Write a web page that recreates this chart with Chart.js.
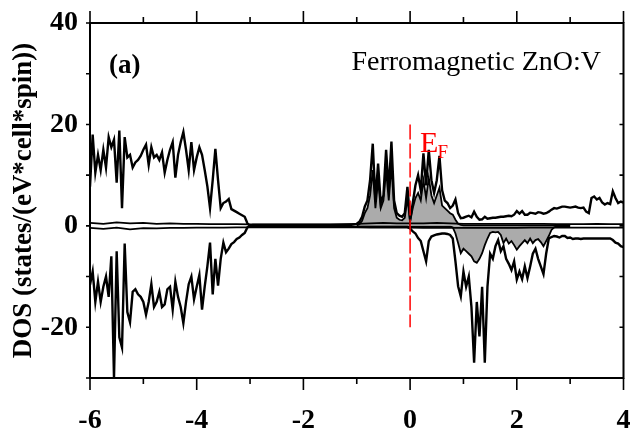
<!DOCTYPE html>
<html>
<head>
<meta charset="utf-8">
<title>DOS - ferromagnetic ZnO:V</title>
<script src="https://cdn.jsdelivr.net/npm/chart.js@4.4.1/dist/chart.umd.min.js"></script>
<style>
  html, body { margin: 0; padding: 0; background: #fff; }
</style>
</head>
<body>
<canvas id="dosChart" width="634" height="430"></canvas>
<script>
const SERIF = "'Liberation Serif', 'Times New Roman', serif";

// Total DOS, sampled every 0.05 eV from -6 to 4 eV
const E_START = -6;
const E_STEP = 0.05;
const totalUp = [
  7.7, 18, 10.5, 14, 11, 15, 11.5, 17.5, 15.5, 17,
  8.5, 18.8, 3.5, 17.5, 13.5, 14, 11.5, 12.5, 13, 13.8,
  15, 16, 12, 15.5, 13.5, 14, 13, 14.5, 10.5, 13,
  15, 16.5, 9.5, 14, 16.5, 18.5, 15, 11, 16.5, 11,
  13.5, 15.5, 14, 11, 7.8, 3.5, 9, 15.2, 9, 3.5,
  4.5, 4.8, 5.3, 3.3, 3.0, 2.7, 2.4, 2.1, 1.8, 0.5,
  0,
  0.2, 0.2, 0.2, 0.2, 0.2, 0.2, 0.2, 0.2, 0.2, 0.2,
  0.2, 0.2, 0.2, 0.2, 0.2, 0.2, 0.2, 0.2, 0.2, 0.2,
  0.2, 0.2, 0.2, 0.2, 0.2, 0.2, 0.2, 0.2, 0.2, 0.2,
  0.2, 0.2, 0.2, 0.2, 0.2, 0.2, 0.2, 0.2,
  0.3, 0.4, 0.8, 1.8, 3.8, 5, 9, 16.2, 5.1, 12.3,
  4.5, 6, 15, 7, 16.6, 5, 2.5, 2, 1.8, 2.5,
  7.7, 1.2, 4.5, 8, 10, 7, 14.3, 8, 15, 9,
  6.5, 9, 13.8, 7, 5, 4.5, 3.5, 4, 5.2, 2.5,
  1.5, 1.6, 1.8, 2.0, 1.7, 2.8, 1.8, 1.2, 1.3, 1.8,
  1.4, 1.5, 1.6, 1.6, 1.7, 1.8, 1.8, 1.9, 2.0, 1.9,
  2.2, 2.9, 2.4, 2.9, 2.2, 2.2, 2.6, 2.5, 2.4, 2.7,
  2.6, 2.4, 2.5, 2.8, 3.2, 3.5, 3.4, 3.6, 3.8, 3.8,
  3.7, 3.6, 3.7, 3.8, 3.6, 3.5, 3.6, 2.8, 2.5, 5.5,
  5.8, 5.2, 5.5, 4.6, 4.2, 4.5, 4.3, 6.8, 5.5, 4.5,
  4.8, 4.6
];
const totalDown = [
  -11.6, -9, -15, -11, -15, -12, -10, -14, -6, -30,
  -5, -22, -24, -3.5, -17, -19, -13, -12.5, -13.5, -14,
  -15, -17.5, -15, -11.5, -16, -15, -13, -16, -15.5, -12.5,
  -12, -16.5, -11, -14, -16, -19.2, -15, -11.5, -10, -14.5,
  -12, -9.7, -16.5, -12, -8, -3.3, -13.5, -6.5, -11.8, -6.5,
  -3.3, -5.2, -4.5, -3.6, -3.2, -2.6, -2.3, -1.8, -1.4, -0.3,
  0,
  -0.2, -0.2, -0.2, -0.2, -0.2, -0.2, -0.2, -0.2, -0.2, -0.2,
  -0.2, -0.2, -0.2, -0.2, -0.2, -0.2, -0.2, -0.2, -0.2, -0.2,
  -0.2, -0.2, -0.2, -0.2, -0.2, -0.2, -0.2, -0.2, -0.2, -0.2,
  -0.2, -0.2, -0.2, -0.2, -0.2, -0.2, -0.2, -0.2, -0.2, -0.2,
  -0.2, -0.2, -0.2, -0.2, -0.2, -0.2, -0.2, -0.2, -0.2, -0.2,
  -0.2, -0.2, -0.2, -0.2, -0.2, -0.2, -0.2, -0.2, -0.2,
  -0.5, -1.1, -1.5, -2.4, -3, -5, -7, -3, -2.1, -1.9,
  -1.7, -1.6, -1.5, -1.5, -1.6, -1.8, -2.5, -7, -11.9, -13.9,
  -9, -12, -10, -16, -27, -15, -21.8, -12, -27, -12,
  -5.5, -6.5, -4, -2.8, -5, -4, -6.5, -7.5, -8.7, -7,
  -10.6, -9, -10.5, -8, -10.3, -8, -5.5, -4.5, -6.5, -8,
  -9.5, -5.5, -2.5, -2.2, -2.0, -2.1, -2.3, -2.0, -2.0, -2.4,
  -2.3, -2.6, -2.5, -2.5, -2.6, -2.5, -2.5, -2.5, -2.5, -2.5,
  -2.5, -2.5, -2.5, -2.5, -2.5, -2.5, -2.8, -3.3, -3.5, -4.0,
  -4.2
];

// V partial DOS (shaded), every 0.05 eV from -1 to 3 eV
const V_START = -1;
const vUp = [
  0.1, 0.3, 1, 2.5, 3.5, 6, 11, 3.5, 9, 3.5,
  5, 11, 5, 12, 3.5, 1.6, 1.2, 1.1, 1.6, 5.5,
  0.8, 3.5, 5.5, 6.5, 5, 9, 5.5, 9.5, 6, 4.5,
  6, 7.5, 4, 3.5, 3, 2.5, 2.2, 1.2, 0.4, 0.2,
  0.1, 0.1, 0.1, 0.1, 0.1, 0.1, 0.1, 0.1, 0.1, 0.1,
  0.1, 0.1, 0.1, 0.1, 0.1, 0.1, 0.1, 0.1, 0.1, 0.1,
  0.1, 0.1, 0.1, 0.1, 0.1, 0.1, 0.1, 0.1, 0.1, 0.1,
  0.1, 0.1, 0.1, 0.1, 0.1, 0.1, 0.1, 0.1, 0.1, 0.1,
  0.1
];
const vDown = [
  -0.1, -0.1, -0.1, -0.1, -0.1, -0.1, -0.1, -0.1, -0.1, -0.1,
  -0.1, -0.1, -0.1, -0.1, -0.1, -0.1, -0.1, -0.1, -0.1, -0.1,
  -0.1, -0.1, -0.1, -0.1, -0.1, -0.1, -0.1, -0.1, -0.1, -0.1,
  -0.1, -0.1, -0.1, -0.1, -0.1, -0.1,
  -0.3, -1.5, -3.4, -5.4, -4.5, -5, -5.5, -6, -7, -7.3,
  -6.5, -5.4, -3.8, -2.5, -1.4, -1.2, -1.3, -1.2, -1.8, -3.4,
  -2.5, -3.5, -3, -3.8, -4.7, -4, -3.4, -2.8, -3.4, -2.5,
  -3.4, -2.8, -2.6, -3.2, -4, -3, -2, -0.8, -0.3,
  -0.1, -0.1, -0.1, -0.1, -0.1, -0.1
];

// small partial DOS hugging zero, every 0.25 eV
const OTHER_STEP = 0.25;
const otherUp = [
  0.6, 0.4, 0.7, 0.5, 0.6, 0.4, 0.5, 0.4, 0.4, 0.35,
  0.35, 0.35, 0.3, 0.3, 0.3, 0.3, 0.3, 0.3, 0.3, 0.35,
  0.4, 0.5, 0.6, 0.5, 0.5, 0.5, 0.6, 0.5, 0.4, 0.4,
  0.4, 0.4, 0.4, 0.4, 0.4, 0.35, 0.35, 0.35, 0.4, 0.35,
  0.35
];
const otherDown = [
  -0.4, -0.6, -0.35, -0.7, -0.45, -0.5, -0.4, -0.4, -0.35, -0.35,
  -0.35, -0.3, -0.3, -0.3, -0.3, -0.3, -0.3, -0.3, -0.3, -0.3,
  -0.3, -0.35, -0.35, -0.35, -0.35, -0.4, -0.4, -0.4, -0.4, -0.4,
  -0.4, -0.4, -0.4, -0.35, -0.35, -0.35, -0.35, -0.35, -0.35, -0.35,
  -0.35
];

const xTickLabels = [-6, -4, -2, 0, 2, 4];
const yTickLabels = [-20, 0, 20, 40];
const fermiSpan = [20, -20];

function toPoints(values, start, step) {
  return values.map((v, i) => ({ x: +(start + i * step).toFixed(3), y: v }));
}

// frame, axis ticks and the in-plot labels
const framePlugin = {
  id: 'frame',
  afterDatasetsDraw(chart) {
    const { ctx, chartArea: a, scales: { x, y } } = chart;
    ctx.save();
    ctx.strokeStyle = '#000';
    ctx.lineWidth = 2;
    ctx.strokeRect(a.left, a.top, a.right - a.left, a.bottom - a.top);

    ctx.lineWidth = 1.6;
    ctx.beginPath();
    for (let v = -6; v <= 4; v++) {
      const px = x.getPixelForValue(v);
      const len = v % 2 === 0 ? 12 : 6;
      ctx.moveTo(px, a.top); ctx.lineTo(px, a.top - len);
      ctx.moveTo(px, a.bottom); ctx.lineTo(px, a.bottom + len);
    }
    for (let v = -30; v <= 40; v += 10) {
      const py = y.getPixelForValue(v);
      ctx.moveTo(a.left, py); ctx.lineTo(a.left - 4, py);
      ctx.moveTo(a.right, py); ctx.lineTo(a.right - 4, py);
    }
    ctx.stroke();

    ctx.fillStyle = '#000';
    ctx.font = 'bold 27px ' + SERIF;
    ctx.textBaseline = 'middle';
    ctx.textAlign = 'left';
    ctx.fillText('(a)', 109, 66);

    ctx.font = '28px ' + SERIF;
    ctx.textAlign = 'right';
    ctx.textBaseline = 'alphabetic';
    ctx.fillText('Ferromagnetic ZnO:V', 601, 70);

    // Fermi level label
    const ex = x.getPixelForValue(0) + 10;
    ctx.fillStyle = '#ff0000';
    ctx.textAlign = 'left';
    ctx.font = '30px ' + SERIF;
    ctx.fillText('E', ex, 152);
    const w = ctx.measureText('E').width;
    ctx.font = '19px ' + SERIF;
    ctx.fillText('F', ex + w - 1, 158);
    ctx.restore();
  }
};

const lineStyle = { borderColor: '#000', pointRadius: 0, tension: 0, fill: false };

new Chart(document.getElementById('dosChart'), {
  type: 'line',
  data: {
    datasets: [
      { ...lineStyle, data: toPoints(totalUp, E_START, E_STEP), borderWidth: 2.4, order: 1 },
      { ...lineStyle, data: toPoints(totalDown, E_START, E_STEP), borderWidth: 2.4, order: 1 },
      { ...lineStyle, data: toPoints(otherUp, E_START, OTHER_STEP), borderWidth: 1.8, order: 2 },
      { ...lineStyle, data: toPoints(otherDown, E_START, OTHER_STEP), borderWidth: 1.8, order: 2 },
      { ...lineStyle, data: toPoints(vUp, V_START, E_STEP), borderWidth: 1.8,
        fill: 'origin', backgroundColor: '#ababab', order: 3 },
      { ...lineStyle, data: toPoints(vDown, V_START, E_STEP), borderWidth: 1.8,
        fill: 'origin', backgroundColor: '#ababab', order: 3 },
      { ...lineStyle, data: fermiSpan.map(v => ({ x: 0, y: v })), borderColor: '#ff0000',
        borderWidth: 1.5, borderDash: [15, 4], order: 0 }
    ]
  },
  options: {
    responsive: false,
    animation: false,
    layout: { padding: { left: 0, top: 23, right: 10.5, bottom: 0 } },
    plugins: { legend: { display: false }, tooltip: { enabled: false } },
    scales: {
      x: {
        type: 'linear', min: -6, max: 4,
        grid: { display: false, drawTicks: true, tickLength: 24 },
        border: { display: false },
        afterBuildTicks: s => { s.ticks = xTickLabels.map(v => ({ value: v })); },
        afterFit: s => { s.height = 52; },
        ticks: { color: '#000', padding: 2, maxRotation: 0,
                 font: { family: SERIF, size: 28, weight: 'bold' } }
      },
      y: {
        min: -30, max: 40,
        grid: { display: false, drawTicks: true, tickLength: 11 },
        border: { display: false },
        afterBuildTicks: s => { s.ticks = yTickLabels.map(v => ({ value: v })); },
        afterFit: s => { s.width = 90; },
        ticks: { color: '#000', padding: 1,
                 font: { family: SERIF, size: 28, weight: 'bold' } },
        title: { display: true, text: 'DOS (states/(eV*cell*spin))', color: '#000',
                 padding: { top: 8, bottom: 0 },
                 font: { family: SERIF, size: 27, weight: 'bold' } }
      }
    }
  },
  plugins: [framePlugin]
});
</script>
</body>
</html>
